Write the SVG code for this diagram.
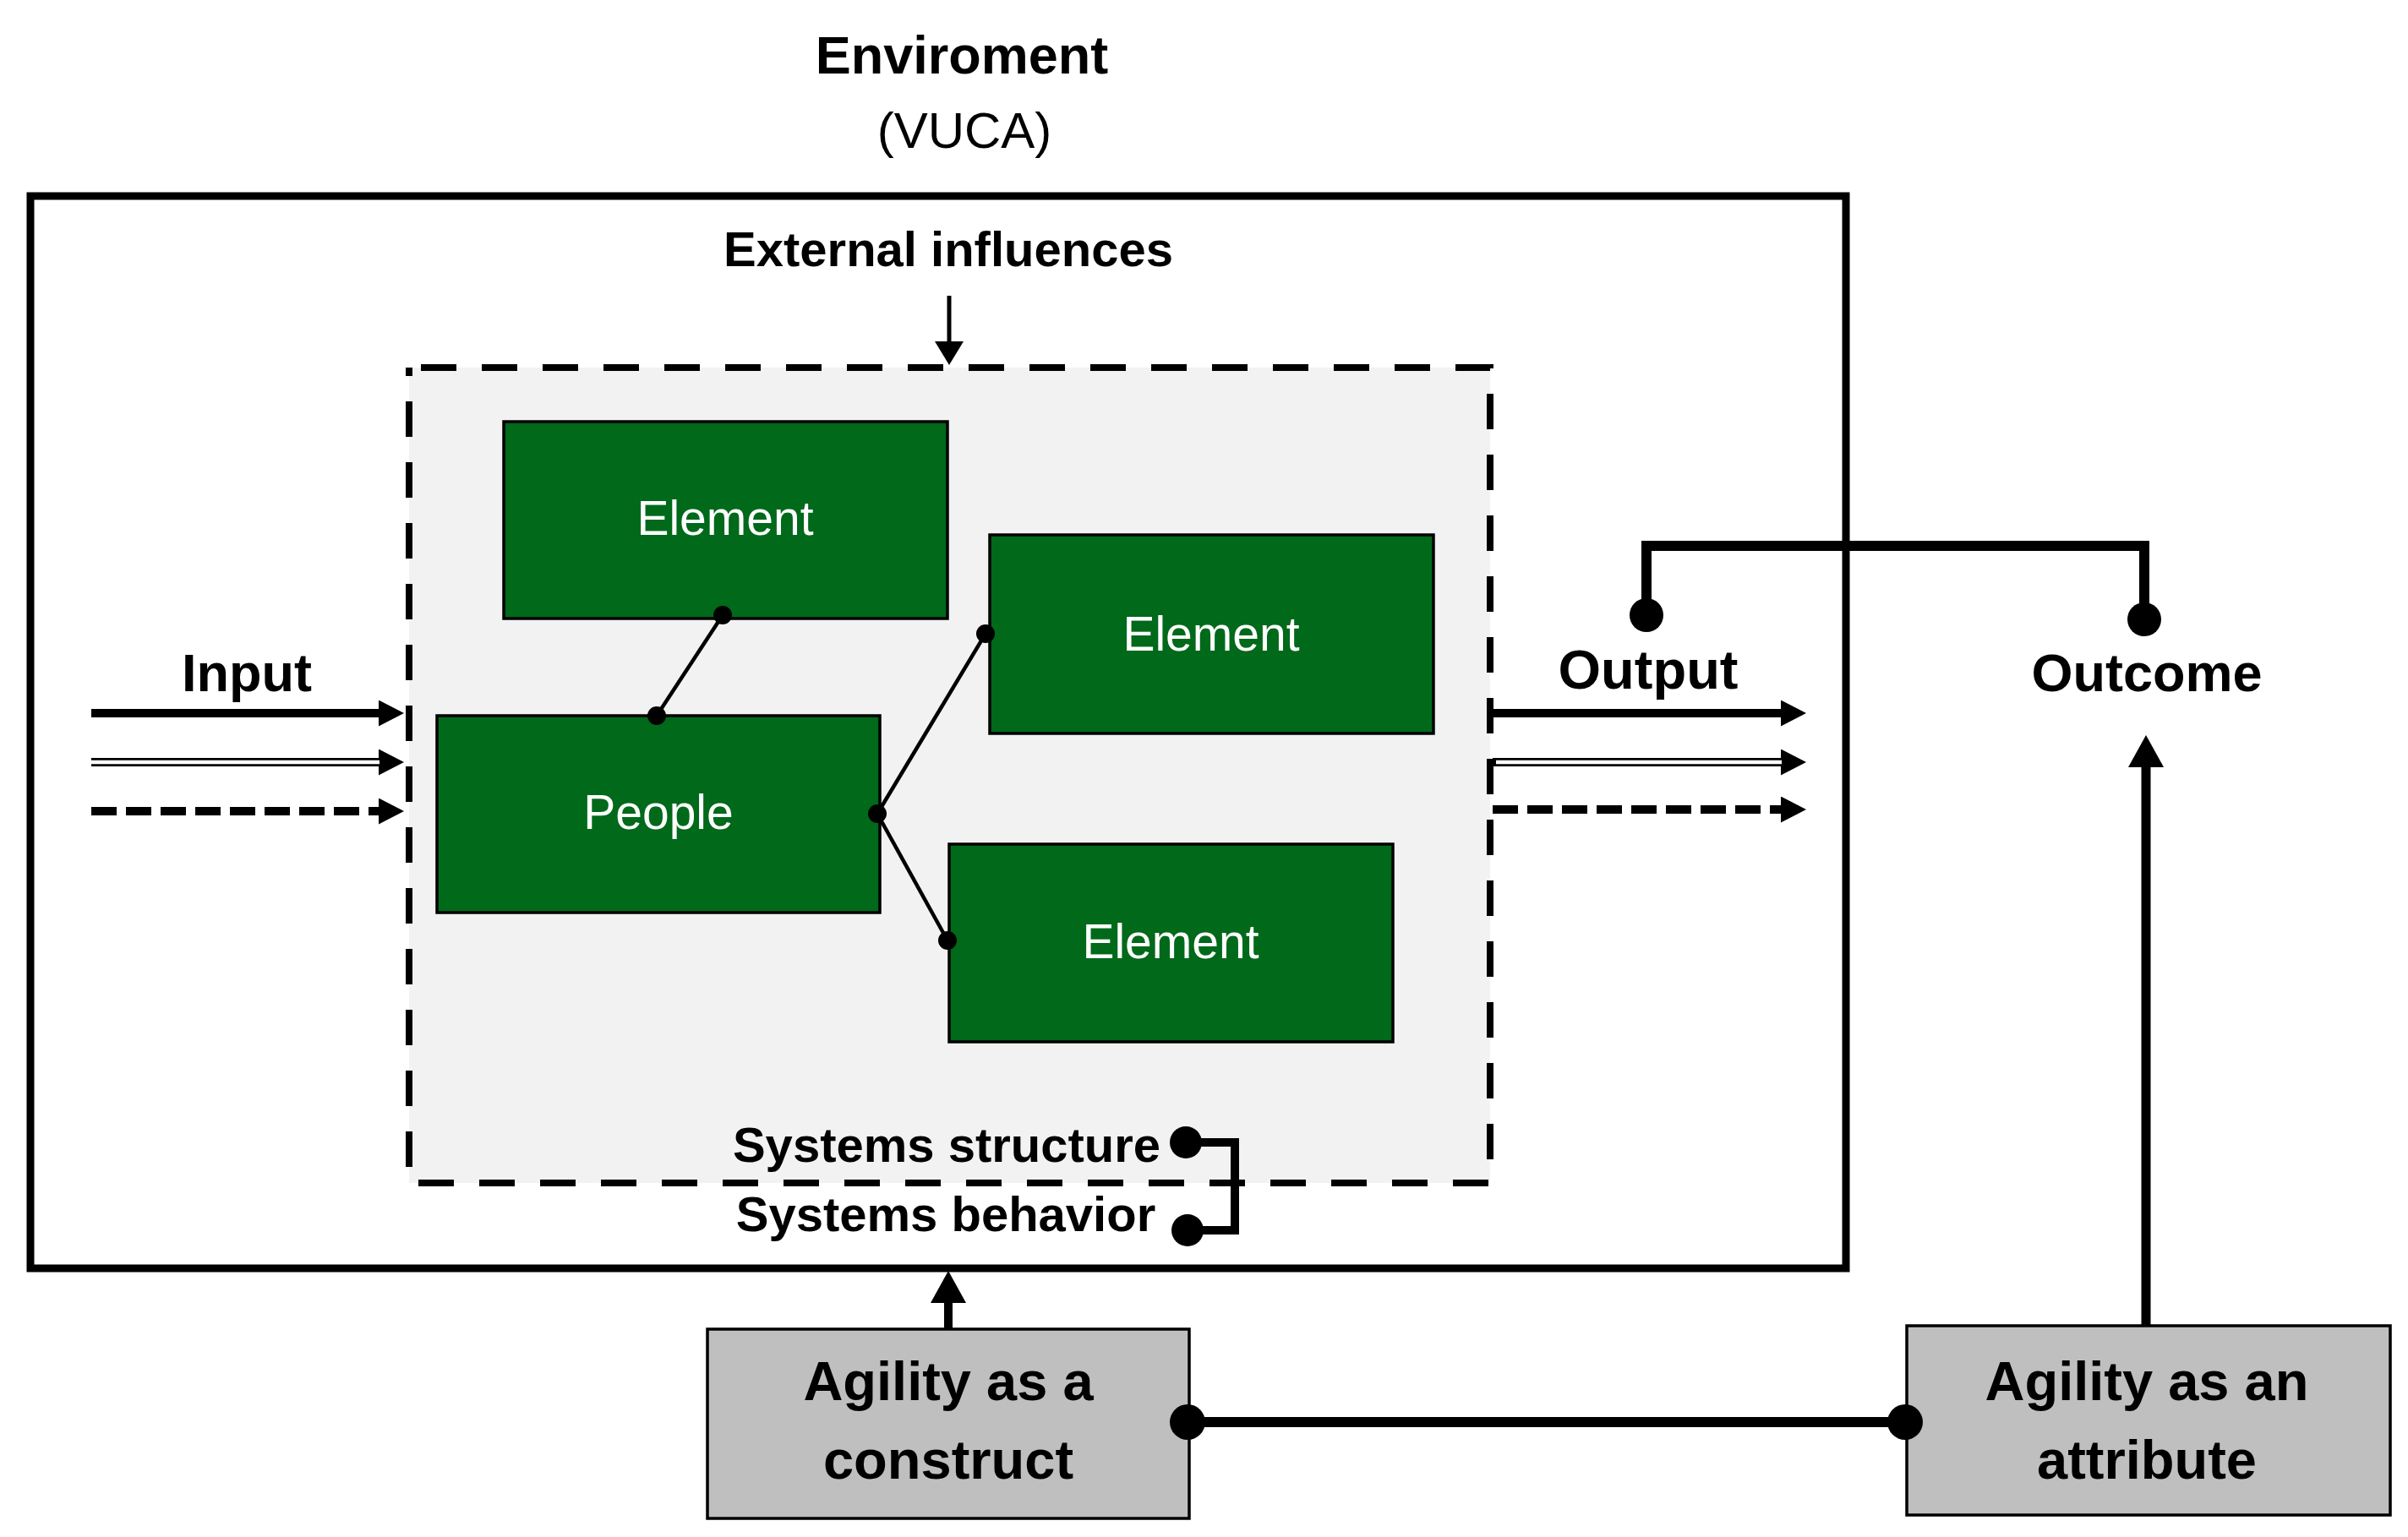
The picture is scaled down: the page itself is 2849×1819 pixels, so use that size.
<svg xmlns="http://www.w3.org/2000/svg" width="2849" height="1819" viewBox="0 0 2849 1819">
<style>
.t{font-family:"Liberation Sans",Arial,sans-serif;text-anchor:middle;fill:#000}
.b{font-weight:bold}
.w{fill:#ffffff}
.green{fill:#00691a;stroke:#000;stroke-width:3.5}
.grey{fill:#bfbfbf;stroke:#000;stroke-width:3.5}
.ln{stroke:#000;fill:none}
.dot{fill:#000}
</style>
<defs>
<marker id="ah" markerUnits="userSpaceOnUse" markerWidth="32" markerHeight="32" refX="2" refY="15.5" orient="auto"><path d="M0,0 L30,15.5 L0,31 z" fill="#000"/></marker>
<marker id="ahS" markerUnits="userSpaceOnUse" markerWidth="30" markerHeight="36" refX="2" refY="17" orient="auto"><path d="M0,0 L28,17 L0,34 z" fill="#000"/></marker>
<marker id="ahL" markerUnits="userSpaceOnUse" markerWidth="42" markerHeight="44" refX="2" refY="21" orient="auto"><path d="M0,0 L38,21 L0,42 z" fill="#000"/></marker>
</defs>
<rect x="0" y="0" width="2849" height="1819" fill="#fff"/>

<g id="environment">
<text class="t b" x="1138" y="87" font-size="63">Enviroment</text>
<text class="t" x="1141" y="175" font-size="60">(VUCA)</text>
<rect x="36" y="232" width="2148" height="1269" fill="none" stroke="#000" stroke-width="9"/>
<text class="t b" x="1122" y="315" font-size="58">External influences</text>
</g>

<g id="system">
<rect x="484" y="435" width="1279" height="965" fill="#f2f2f2" stroke="#000" stroke-width="8" stroke-dasharray="42 30" stroke-dashoffset="58"/>
</g>

<g id="element1"><rect class="green" x="596" y="499" width="525" height="233"/><text class="t w" x="858" y="633" font-size="57">Element</text></g>
<g id="people"><rect class="green" x="517" y="847" width="524" height="233"/><text class="t w" x="779" y="981" font-size="57">People</text></g>
<g id="element2"><rect class="green" x="1171" y="633" width="525" height="235"/><text class="t w" x="1433" y="770" font-size="57">Element</text></g>
<g id="element3"><rect class="green" x="1123" y="999" width="525" height="234"/><text class="t w" x="1385" y="1134" font-size="57">Element</text></g>

<g id="labels">
<text class="t b" x="292" y="818" font-size="63">Input</text>
<text class="t b" x="1950" y="815" font-size="65">Output</text>
<text class="t b" x="2540" y="818" font-size="63">Outcome</text>
<text class="t b" x="1120" y="1375" font-size="58">Systems structure</text>
<text class="t b" x="1119" y="1457" font-size="58">Systems behavior</text>
</g>

<g id="construct"><rect class="grey" x="837" y="1573" width="570" height="224"/><text class="t b" x="1122" y="1657" font-size="65">Agility as a</text><text class="t b" x="1122" y="1750" font-size="65">construct</text></g>
<g id="attribute"><rect class="grey" x="2256" y="1569" width="572" height="224"/><text class="t b" x="2540" y="1657" font-size="65">Agility as an</text><text class="t b" x="2540" y="1750" font-size="65">attribute</text></g>

<g id="connectors">
<line class="ln" x1="1123" y1="350" x2="1123" y2="406" stroke-width="5" marker-end="url(#ahS)"/>
<line class="ln" x1="108" y1="844" x2="450" y2="844" stroke-width="10" marker-end="url(#ah)"/>
<line class="ln" x1="108" y1="902" x2="450" y2="902" stroke-width="10" marker-end="url(#ah)"/>
<line x1="106" y1="902" x2="449" y2="902" stroke="#fff" stroke-width="4.5"/>
<line class="ln" x1="108" y1="960" x2="450" y2="960" stroke-width="10" stroke-dasharray="30 11" marker-end="url(#ah)"/>
<line class="ln" x1="1766" y1="844" x2="2109" y2="844" stroke-width="10" marker-end="url(#ah)"/>
<line class="ln" x1="1766" y1="902" x2="2109" y2="902" stroke-width="10" marker-end="url(#ah)"/>
<line x1="1770" y1="902" x2="2108" y2="902" stroke="#fff" stroke-width="4.5"/>
<line class="ln" x1="1766" y1="958" x2="2109" y2="958" stroke-width="10" stroke-dasharray="30 11" marker-end="url(#ah)"/>
<line class="ln" x1="855" y1="728" x2="777" y2="847" stroke-width="4.5"/>
<line class="ln" x1="1038" y1="963" x2="1166" y2="750" stroke-width="4.5"/>
<line class="ln" x1="1038" y1="963" x2="1121" y2="1113" stroke-width="4.5"/>
<circle class="dot" cx="855" cy="728" r="11"/>
<circle class="dot" cx="777" cy="847" r="11"/>
<circle class="dot" cx="1038" cy="963" r="11"/>
<circle class="dot" cx="1166" cy="750" r="11"/>
<circle class="dot" cx="1121" cy="1113" r="11"/>
<path class="ln" d="M1948,728 V646 H2537 V733" stroke-width="12"/>
<circle class="dot" cx="1948" cy="728" r="20"/>
<circle class="dot" cx="2537" cy="733" r="20"/>
<path class="ln" d="M1403,1352 H1461 V1456 H1405" stroke-width="10"/>
<circle class="dot" cx="1403" cy="1352" r="19"/>
<circle class="dot" cx="1405" cy="1456" r="19"/>
<line class="ln" x1="1122" y1="1573" x2="1122" y2="1540" stroke-width="10" marker-end="url(#ahL)"/>
<line class="ln" x1="2539" y1="1569" x2="2539" y2="906" stroke-width="11" marker-end="url(#ahL)"/>
<line class="ln" x1="1405" y1="1683" x2="2254" y2="1683" stroke-width="12"/>
<circle class="dot" cx="1405" cy="1683" r="21"/>
<circle class="dot" cx="2254" cy="1683" r="21"/>
</g>
</svg>
